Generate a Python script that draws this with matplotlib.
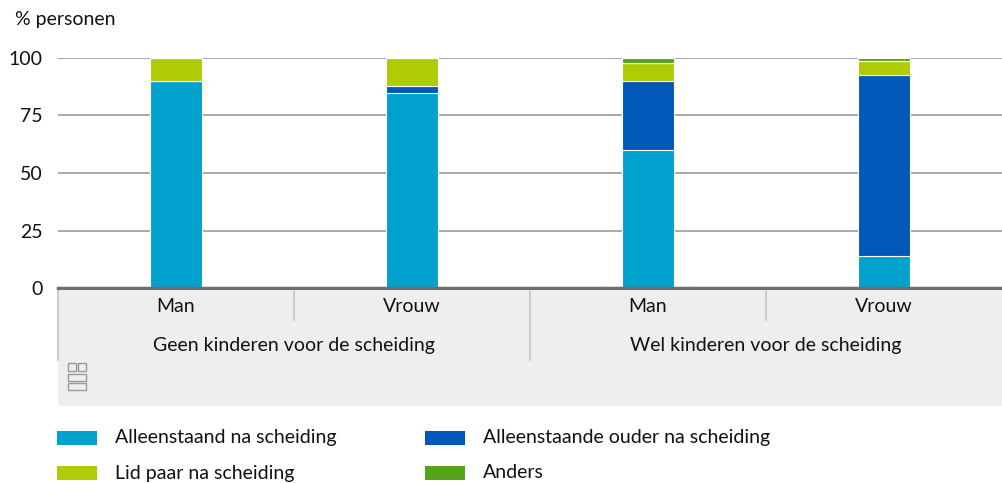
import matplotlib.pyplot as plt
from matplotlib.patches import FancyBboxPatch, Rectangle
from matplotlib.lines import Line2D
from matplotlib.transforms import blended_transform_factory

plt.rcParams['font.family'] = ['Lato', 'DejaVu Sans']
FS = 14

# data
geslacht = ["Man", "Vrouw", "Man", "Vrouw"]
groepen = ["Geen kinderen voor de scheiding", "Wel kinderen voor de scheiding"]
series = ["Alleenstaand na scheiding", "Alleenstaande ouder na scheiding",
          "Lid paar na scheiding", "Anders"]
alleenstaand = [90, 85, 60, 14]
alleenstaande_ouder = [0, 3, 30, 78.5]
lid_paar = [10, 12, 8, 6]
anders = [0, 0, 2, 1.5]
kleuren = ["#00a1cd", "#0058b8", "#afcb05", "#53a31d"]

W, H = 1002, 483
fig = plt.figure(figsize=(W / 100, H / 100), dpi=100)
ax = fig.add_axes([58 / W, 1 - 288 / H, 1 - 58 / W, 230 / H])

x = list(range(len(geslacht)))
bottom = [0] * len(x)
for vals, kleur in zip([alleenstaand, alleenstaande_ouder, lid_paar, anders], kleuren):
    ax.bar(x, vals, width=0.22, bottom=bottom, color=kleur,
           edgecolor="white", linewidth=0.8, zorder=3)
    bottom = [b + v for b, v in zip(bottom, vals)]

ax.set_xlim(-0.5, 3.5)
ax.set_ylim(0, 100)
ax.set_yticks([0, 25, 50, 75, 100])
ax.tick_params(axis="y", length=0, labelsize=FS, pad=11, colors="#111111")
ax.set_xticks([])
for s in ax.spines.values():
    s.set_visible(False)
ax.grid(axis="y", color="#9a9a9a", linewidth=1.2, zorder=0)
ax.axhline(0, color="#6e6e6e", linewidth=2.5, zorder=4, clip_on=False)

fig.text(15 / W, 1 - 20 / H, "% personen", fontsize=FS, va="center", color="#111111")

# grey category box
box = FancyBboxPatch((58 / W, 1 - 406 / H), 1 - 58 / W + 0.02, 116 / H,
                     boxstyle="round,pad=0,rounding_size=0.006",
                     transform=fig.transFigure, facecolor="#eeeeee",
                     edgecolor="none", zorder=0)
fig.patches.append(box)

tr = blended_transform_factory(ax.transData, fig.transFigure)
for xi, naam in zip(x, geslacht):
    fig.text(xi, 1 - 306 / H, naam, transform=tr, ha="center", va="center",
             fontsize=FS, color="#111111")
for gi, naam in enumerate(groepen):
    fig.text(gi * 2 + 0.5, 1 - 346 / H, naam, transform=tr, ha="center",
             va="center", fontsize=FS, color="#111111")
for xs in [0.5, 2.5]:
    fig.add_artist(Line2D([xs, xs], [1 - 291 / H, 1 - 320 / H], transform=tr,
                          color="#c4c4c4", linewidth=1.2))
for xs in [-0.5, 1.5]:
    fig.add_artist(Line2D([xs + 0.002, xs + 0.002], [1 - 291 / H, 1 - 360 / H],
                          transform=tr, color="#c4c4c4", linewidth=1.2))

# cbs logo (schematic)
lc = "#9a9a9a"
for (x0, y0, w, h) in [(68, 363, 8, 8), (78, 363, 8, 8), (68, 374, 18, 7), (68, 383, 18, 7)]:
    fig.patches.append(Rectangle((x0 / W, 1 - (y0 + h) / H), w / W, h / H,
                                 transform=fig.transFigure, fill=False,
                                 edgecolor=lc, linewidth=1.0))

# legend
posities = [(57, 438), (425, 438), (57, 473), (425, 473)]
for naam, kleur, (px, py) in zip(series, kleuren, posities):
    fig.patches.append(Rectangle((px / W, 1 - (py + 7) / H), 40 / W, 14 / H,
                                 transform=fig.transFigure, facecolor=kleur,
                                 edgecolor="none"))
    fig.text((px + 58) / W, 1 - py / H, naam, fontsize=FS, va="center",
             color="#111111")

fig.savefig("out.png", dpi=100)
